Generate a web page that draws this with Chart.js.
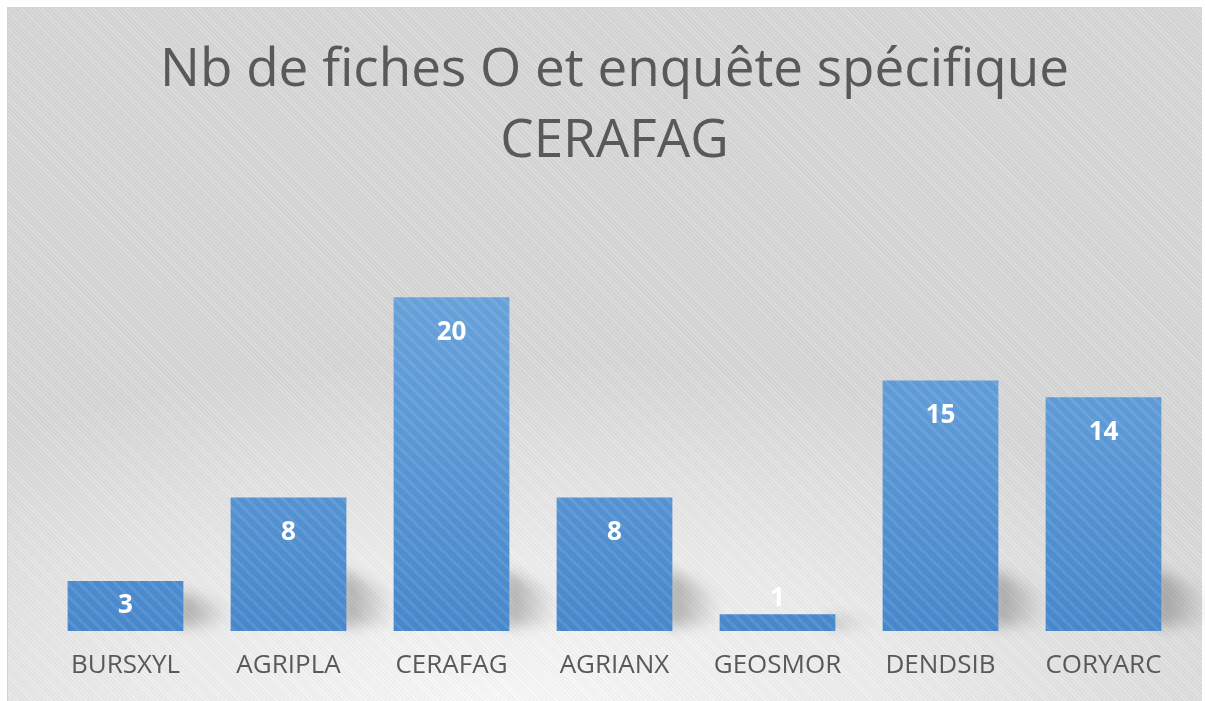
<!DOCTYPE html>
<html>
<head>
<meta charset="utf-8">
<script src="https://cdn.jsdelivr.net/npm/chart.js@4"></script>
<style>
  html, body { margin: 0; padding: 0; background: #fff; }
  #frame {
    position: absolute; left: 7px; top: 7px; width: 1194px; height: 700px;
    border: 1px solid #d4d4d4; border-right: none; border-bottom: none;
    background:
      repeating-linear-gradient(45deg, rgba(255,255,255,0.10) 0 1px, rgba(0,0,0,0.03) 1px 3px),
      radial-gradient(ellipse 70% 50% at 42% 100%, #fbfbfb 0%, #eeeeee 45%, #d9d9d9 100%);
  }
  #wrap { position: absolute; left: 0; top: 0; width: 1205px; height: 701px; }
</style>
</head>
<body>
<div id="frame"></div>
<div id="wrap"><canvas id="chart" width="1205" height="701"></canvas></div>
<script>
// donnees du graphique
const categories = ['BURSXYL', 'AGRIPLA', 'CERAFAG', 'AGRIANX', 'GEOSMOR', 'DENDSIB', 'CORYARC'];
const valeurs = [3, 8, 20, 8, 1, 15, 14];
const titre = ['Nb de fiches O et enquête spécifique', 'CERAFAG'];

// rayures diagonales posees sur les barres
function motifRayures(ctx) {
  const c = document.createElement('canvas');
  c.width = 12; c.height = 12;
  const g = c.getContext('2d');
  g.strokeStyle = 'rgba(255,255,255,0.10)';
  g.lineWidth = 3;
  g.beginPath();
  g.moveTo(-3, -3); g.lineTo(15, 15);
  g.moveTo(-9, 3); g.lineTo(3, 15);
  g.moveTo(9, -3); g.lineTo(15, 3);
  g.stroke();
  return ctx.createPattern(c, 'repeat');
}

// degrade vertical des barres
function couleurBarre(context) {
  const chart = context.chart;
  const area = chart.chartArea;
  if (!area) return '#5b9bd5';
  const g = chart.ctx.createLinearGradient(0, area.top, 0, area.bottom);
  g.addColorStop(0, '#6ea7dc');
  g.addColorStop(0.5, '#5d9ad6');
  g.addColorStop(1, '#4787cb');
  return g;
}

// ombre portee au pied des barres
const ombre = {
  id: 'ombre',
  beforeDatasetsDraw(chart) {
    const ctx = chart.ctx;
    const meta = chart.getDatasetMeta(0);
    ctx.save();
    ctx.filter = 'blur(7px)';
    meta.data.forEach(bar => {
      const h = bar.base - bar.y;
      const sh = Math.min(h * 0.8, 62);
      const right = bar.x + bar.width / 2;
      const g = ctx.createLinearGradient(right, 0, right + 48, 0);
      g.addColorStop(0, 'rgba(0,0,0,0.26)');
      g.addColorStop(1, 'rgba(0,0,0,0)');
      ctx.fillStyle = g;
      ctx.beginPath();
      ctx.moveTo(right - 6, bar.base - 4);
      ctx.lineTo(right - 6, bar.base - sh);
      ctx.lineTo(right + 44, bar.base - sh * 0.6);
      ctx.lineTo(right + 48, bar.base - 8);
      ctx.closePath();
      ctx.fill();
    });
    ctx.restore();
  }
};

const etiquettes = {
  id: 'etiquettes',
  afterDatasetsDraw(chart) {
    const ctx = chart.ctx;
    const meta = chart.getDatasetMeta(0);
    const rayures = motifRayures(ctx);
    ctx.save();
    meta.data.forEach(bar => {
      ctx.fillStyle = rayures;
      ctx.fillRect(bar.x - bar.width / 2, bar.y, bar.width, bar.base - bar.y);
    });
    ctx.fillStyle = '#ffffff';
    ctx.font = 'bold 26px "Open Sans"';
    ctx.textAlign = 'center';
    ctx.textBaseline = 'middle';
    meta.data.forEach((bar, i) => {
      const h = bar.base - bar.y;
      let y;
      if (h >= 70) y = bar.y + 35;
      else if (h >= 40) y = bar.y + h / 2;
      else y = bar.y - 16;
      ctx.fillText(String(valeurs[i]), bar.x, y);
    });
    ctx.restore();
  }
};

new Chart(document.getElementById('chart').getContext('2d'), {
  type: 'bar',
  data: {
    labels: categories,
    datasets: [{
      data: valeurs,
      backgroundColor: couleurBarre,
      borderWidth: 0,
      categoryPercentage: 1,
      barPercentage: 0.71
    }]
  },
  options: {
    responsive: false,
    animation: false,
    layout: { padding: { left: 44, right: 20, top: 0, bottom: 0 } },
    plugins: {
      legend: { display: false },
      tooltip: { enabled: false },
      title: {
        display: true,
        text: titre,
        color: '#595959',
        font: { family: '"Open Sans"', size: 53, weight: 'normal', lineHeight: 1.33 },
        padding: { top: 36, bottom: 20 }
      }
    },
    scales: {
      x: {
        grid: { display: false, drawTicks: false },
        border: { display: false },
        ticks: {
          color: '#595959',
          font: { family: '"Open Sans"', size: 26, lineHeight: 1.0 },
          padding: 22
        }
      },
      y: {
        display: false,
        min: 0,
        max: 26
      }
    }
  },
  plugins: [ombre, etiquettes]
});
</script>
</body>
</html>
